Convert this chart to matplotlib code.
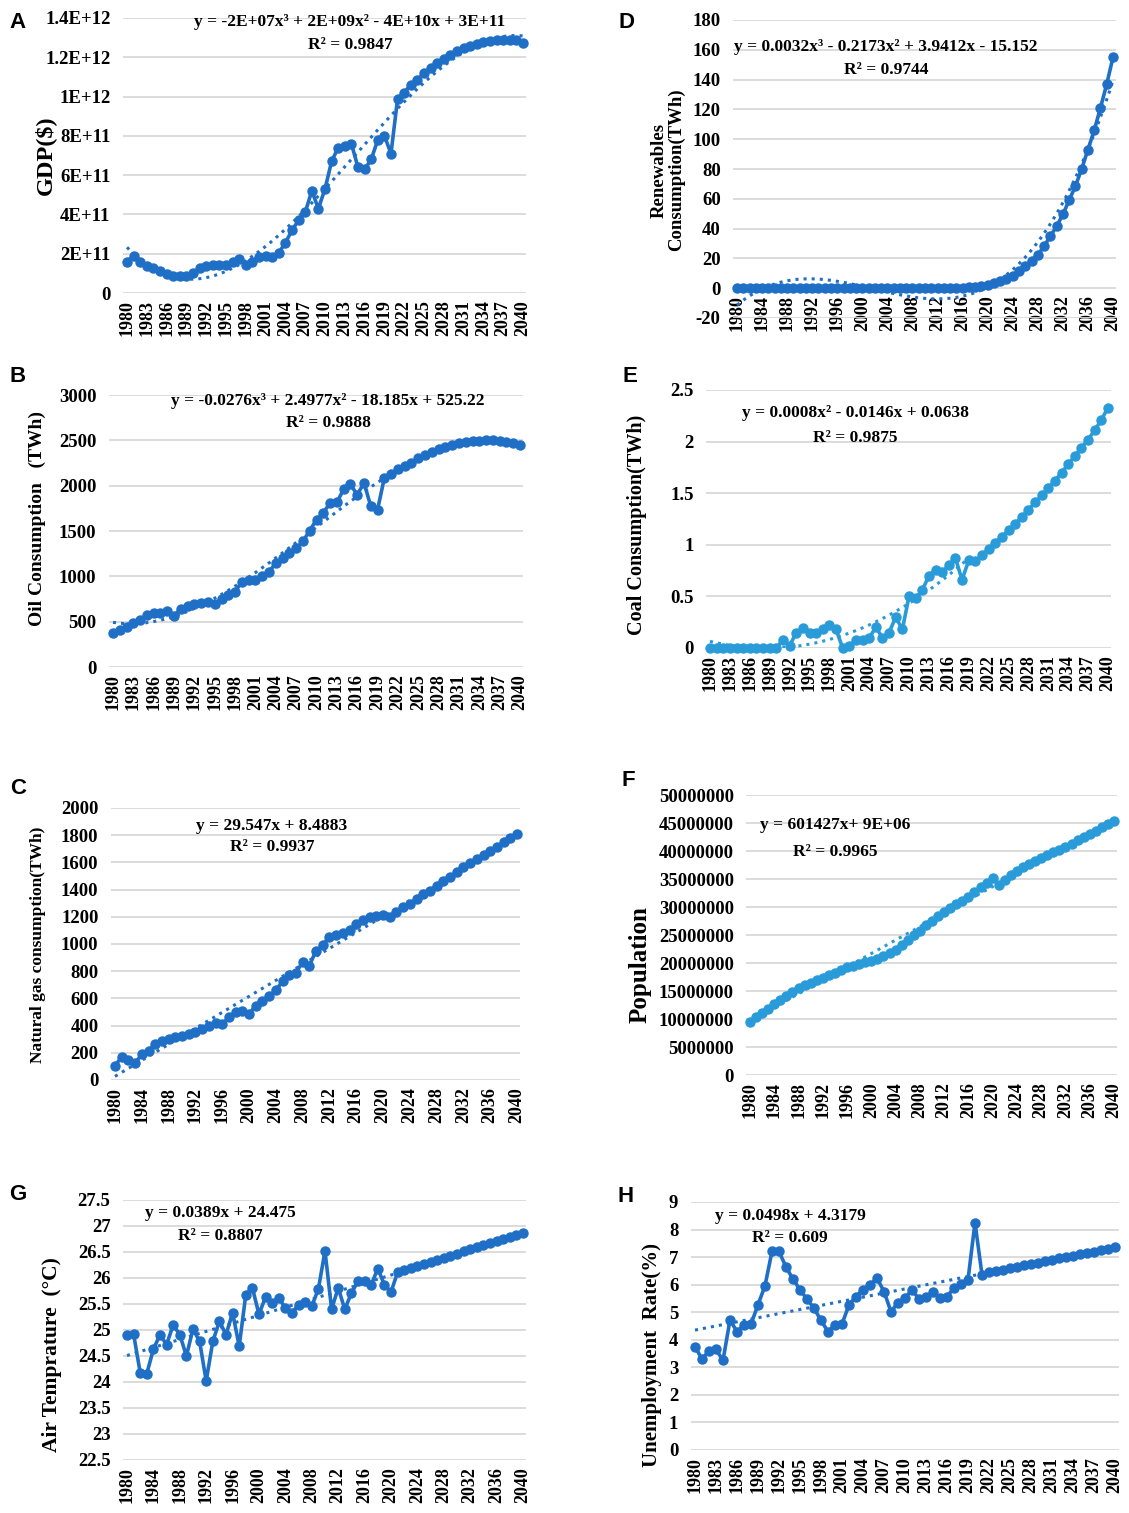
import numpy as np
import matplotlib.pyplot as plt

years = np.arange(1980, 2041)

# GDP in units of 1E+11 $
gdp = np.array([
    1.6, 1.9, 1.6, 1.35, 1.25, 1.1, 0.95, 0.85, 0.85, 0.85,
    1.0, 1.25, 1.35, 1.45, 1.45, 1.45, 1.6, 1.75, 1.45, 1.6,
    1.85, 1.9, 1.85, 2.05, 2.55, 3.2, 3.7, 4.1, 5.2, 4.3,
    5.3, 6.7, 7.4, 7.5, 7.6, 6.4, 6.3, 6.8, 7.8, 8.0,
    7.1, 9.9, 10.2, 10.6, 10.85, 11.2, 11.45, 11.7, 11.9, 12.1,
    12.3, 12.45, 12.6, 12.7, 12.8, 12.85, 12.9, 12.9, 12.9, 12.9,
    12.75]) * 1e11

oil = np.array([
    370, 405, 440, 480, 515, 570, 600, 600, 615, 565,
    645, 670, 700, 710, 720, 700, 745, 795, 830, 940,
    960, 960, 1000, 1050, 1145, 1200, 1255, 1310, 1385, 1505,
    1625, 1700, 1810, 1815, 1960, 2015, 1900, 2030, 1775, 1735,
    2085, 2125, 2180, 2215, 2250, 2300, 2335, 2370, 2400, 2430,
    2450, 2467, 2482, 2490, 2497, 2500, 2500, 2493, 2486, 2475,
    2445])

gas = np.array([
    105, 170, 147, 122, 190, 215, 265, 285, 300, 313,
    325, 338, 350, 375, 400, 417, 412, 460, 497, 505,
    485, 547, 583, 620, 660, 725, 775, 790, 865, 840,
    950, 990, 1055, 1065, 1080, 1100, 1145, 1180, 1195, 1205,
    1210, 1200, 1235, 1270, 1295, 1330, 1368, 1392, 1430, 1466,
    1495, 1527, 1564, 1593, 1625, 1657, 1686, 1715, 1747, 1777,
    1809])

renewables = np.array([
    0, 0, 0, 0, 0, 0, 0, 0, 0, 0,
    0, 0, 0, 0, 0, 0, 0, 0, 0, 0,
    0, 0, 0, 0, 0, 0, 0, 0, 0, 0,
    0, 0, 0, 0, 0, 0, 0.3, 0.6, 1.0, 1.5,
    2.2, 3.2, 4.6, 6.5, 8.5, 11.5, 15, 18.5, 22.5, 28,
    35, 41.5, 49.5, 59, 68.5, 80, 93, 106, 121, 137,
    155])

coal = np.array([
    0, 0, 0, 0, 0, 0, 0, 0, 0, 0,
    0, 0.08, 0.02, 0.15, 0.19, 0.15, 0.15, 0.18, 0.22, 0.18,
    0.0, 0.02, 0.08, 0.08, 0.1, 0.2, 0.1, 0.15, 0.3, 0.18,
    0.5, 0.48, 0.56, 0.7, 0.76, 0.74, 0.8, 0.87, 0.66, 0.85,
    0.84, 0.9, 0.96, 1.02, 1.08, 1.14, 1.2, 1.27, 1.34, 1.41,
    1.48, 1.55, 1.62, 1.7, 1.78, 1.86, 1.94, 2.02, 2.11, 2.21,
    2.33])

# population in millions
population = np.array([
    9.4, 10.3, 11.0, 11.8, 12.6, 13.4, 14.1, 14.9, 15.5, 16.0,
    16.5, 17.0, 17.4, 17.9, 18.3, 18.8, 19.2, 19.5, 19.8, 20.1,
    20.4, 20.8, 21.3, 21.7, 22.3, 23.2, 24.1, 25.0, 25.8, 26.7,
    27.5, 28.4, 29.1, 29.8, 30.5, 31.1, 31.8, 32.6, 33.5, 34.3,
    35.1, 34.0, 34.8, 35.7, 36.5, 37.1, 37.7, 38.2, 38.8, 39.3,
    39.8, 40.2, 40.7, 41.3, 41.9, 42.5, 43.1, 43.6, 44.2, 44.8,
    45.4]) * 1e6

temperature = np.array([
    24.9, 24.92, 24.18, 24.16, 24.63, 24.91, 24.72, 25.1, 24.91, 24.5,
    25.02, 24.78, 24.02, 24.78, 25.17, 24.91, 25.33, 24.69, 25.68, 25.81,
    25.3, 25.64, 25.52, 25.62, 25.42, 25.33, 25.49, 25.53, 25.46, 25.79,
    26.52, 25.4, 25.81, 25.4, 25.71, 25.94, 25.94, 25.87, 26.18, 25.87,
    25.73, 26.11, 26.15, 26.19, 26.23, 26.27, 26.31, 26.35, 26.39, 26.43,
    26.47, 26.51, 26.55, 26.59, 26.63, 26.67, 26.71, 26.75, 26.79, 26.83,
    26.87])

unemployment = np.array([
    3.75, 3.3, 3.6, 3.65, 3.25, 4.72, 4.3, 4.54, 4.57, 5.27,
    5.96, 7.21, 7.21, 6.64, 6.2, 5.82, 5.47, 5.15, 4.7, 4.3,
    4.54, 4.57, 5.27, 5.57, 5.82, 6.0, 6.24, 5.75, 5.02, 5.35,
    5.51, 5.82, 5.47, 5.55, 5.75, 5.51, 5.57, 5.88, 6.03, 6.18,
    8.25, 6.36, 6.45, 6.5, 6.55, 6.6, 6.65, 6.7, 6.75, 6.8,
    6.85, 6.9, 6.95, 7.0, 7.05, 7.1, 7.15, 7.2, 7.25, 7.3,
    7.35])

gdp_ticks = ['0', '2E+11', '4E+11', '6E+11', '8E+11', '1E+12', '1.2E+12', '1.4E+12']
oil_ticks = ['0', '500', '1000', '1500', '2000', '2500', '3000']
gas_ticks = ['0', '200', '400', '600', '800', '1000', '1200', '1400', '1600', '1800', '2000']
ren_ticks = ['-20', '0', '20', '40', '60', '80', '100', '120', '140', '160', '180']
coal_ticks = ['0', '0.5', '1', '1.5', '2', '2.5']
pop_ticks = ['0', '5000000', '10000000', '15000000', '20000000', '25000000',
             '30000000', '35000000', '40000000', '45000000', '50000000']
temp_ticks = ['22.5', '23', '23.5', '24', '24.5', '25', '25.5', '26', '26.5', '27', '27.5']
unemp_ticks = ['0', '1', '2', '3', '4', '5', '6', '7', '8', '9']

DARK = '#1f6fc6'
LIGHT = '#2a9bd9'

W, H = 1129, 1513
plt.rcParams['font.family'] = ['Liberation Serif', 'DejaVu Serif']
plt.rcParams['font.weight'] = 'bold'
fig = plt.figure(figsize=(W / 100, H / 100), dpi=100)


def px_axes(x0, x1, ytop, ybot, lo, hi):
    # x0/x1: pixel column of 1980/2040, ytop/ybot: pixel row of hi/lo
    per_year = (x1 - x0) / 60
    pl, pr = 0.6, 0.5
    left = x0 - pl * per_year
    right = x1 + pr * per_year
    ax = fig.add_axes([left / W, 1 - ybot / H, (right - left) / W, (ybot - ytop) / H])
    ax.set_xlim(1980 - pl, 2040 + pr)
    ax.set_ylim(lo, hi)
    return ax


panels = [
    dict(letter='A', y=gdp, color=DARK, labels=gdp_ticks, lo=0, hi=1.4e12, step=3,
         deg=3, fit=(1980, 2040), trend=(1980, 2040),
         box=(127, 523, 18, 293), tag=(18, 22),
         eq='y = -2E+07x³ + 2E+09x² - 4E+10x + 3E+11', r2='R² = 0.9847', eqpos=(350, 22, 45),
         ylabel='GDP($)', ylpos=(45, 155), ylsize=17.5),
    dict(letter='D', y=renewables, color=DARK, labels=ren_ticks, lo=-20, hi=180, step=4,
         deg=3, fit=(1980, 2040), trend=(1980, 2040),
         box=(737, 1113, 20, 318), tag=(626, 22),
         eq='y = 0.0032x³ - 0.2173x² + 3.9412x - 15.152', r2='R² = 0.9744', eqpos=(886, 47, 70),
         ylabel='Renewables\nConsumption(TWh)', ylpos=(668, 170), ylsize=13.5),
    dict(letter='B', y=oil, color=DARK, labels=oil_ticks, lo=0, hi=3000, step=3,
         deg=3, fit=(1980, 2040), trend=(1980, 2040),
         box=(113, 520, 395, 667), tag=(18, 376),
         eq='y = -0.0276x³ + 2.4977x² - 18.185x + 525.22', r2='R² = 0.9888', eqpos=(328, 401, 423),
         ylabel='Oil Consumption   (TWh)', ylpos=(37, 518), ylsize=14),
    dict(letter='E', y=coal, color=LIGHT, labels=coal_ticks, lo=0, hi=2.5, step=3,
         deg=2, fit=(1980, 2019), trend=(1980, 2019),
         box=(710, 1108, 390, 648), tag=(630, 376),
         eq='y = 0.0008x² - 0.0146x + 0.0638', r2='R² = 0.9875', eqpos=(855, 413, 438),
         ylabel='Coal Consumption(TWh)', ylpos=(637, 525), ylsize=14.5),
    dict(letter='C', y=gas, color=DARK, labels=gas_ticks, lo=0, hi=2000, step=4,
         deg=1, fit=(1980, 2040), trend=(1980, 2040),
         box=(115, 517, 808, 1080), tag=(18, 788),
         eq='y = 29.547x + 8.4883', r2='R² = 0.9937', eqpos=(272, 826, 847),
         ylabel='Natural gas consumption(TWh)', ylpos=(38, 945), ylsize=12.5),
    dict(letter='F', y=population, color=LIGHT, labels=pop_ticks, lo=0, hi=5e7, step=4,
         deg=1, fit=(1980, 2040), trend=(1980, 2040),
         box=(750, 1114, 795, 1075), tag=(628, 781),
         eq='y = 601427x+ 9E+06', r2='R² = 0.9965', eqpos=(835, 825, 852),
         ylabel='Population', ylpos=(640, 965), ylsize=18),
    dict(letter='G', y=temperature, color=DARK, labels=temp_ticks, lo=22.5, hi=27.5, step=4,
         deg=1, fit=(1980, 2020), trend=(1980, 2040),
         box=(127, 523, 1200, 1460), tag=(18, 1195),
         eq='y = 0.0389x + 24.475', r2='R² = 0.8807', eqpos=(220, 1213, 1236),
         ylabel='Air Temprature  (°C)', ylpos=(52, 1355), ylsize=15.5),
    dict(letter='H', y=unemployment, color=DARK, labels=unemp_ticks, lo=0, hi=9, step=3,
         deg=1, fit=(1980, 2020), trend=(1980, 2040),
         box=(695, 1115, 1202, 1450), tag=(626, 1197),
         eq='y = 0.0498x + 4.3179', r2='R² = 0.609', eqpos=(790, 1216, 1238),
         ylabel='Unemployment  Rate(%)', ylpos=(652, 1355), ylsize=15),
]

x_index = np.arange(1, len(years) + 1)

for p in panels:
    x0, x1, ytop, ybot = p['box']
    ax = px_axes(x0, x1, ytop, ybot, p['lo'], p['hi'])
    for s in ax.spines.values():
        s.set_visible(False)
    # category labels hang off the zero line, as in a spreadsheet chart
    ax.spines['bottom'].set_position(('data', max(0, p['lo'])))

    ticks = np.linspace(p['lo'], p['hi'], len(p['labels']))
    ax.set_yticks(ticks)
    ax.set_yticklabels(p['labels'])
    ax.set_xticks(years[::p['step']])
    ax.set_xticklabels([str(v) for v in years[::p['step']]])
    ax.tick_params(axis='y', length=0, pad=9, labelsize=13.5)
    ax.tick_params(axis='x', length=0, pad=5, labelsize=13, labelrotation=90)
    ax.yaxis.grid(True, color='#d9d9d9', lw=1.3)
    ax.set_axisbelow(True)

    ax.plot(years, p['y'], '-o', color=p['color'], lw=2.6, ms=6.5,
            clip_on=False, zorder=3)

    f0, f1 = p['fit']
    m = (years >= f0) & (years <= f1)
    coef = np.polyfit(x_index[m], p['y'][m], p['deg'])
    t0, t1 = p['trend']
    mt = (years >= t0) & (years <= t1)
    xs = np.linspace(x_index[mt][0], x_index[mt][-1], 300)
    ax.plot(xs + 1979, np.polyval(coef, xs), ':', color=p['color'], lw=2.2, zorder=4)

    ex, ey1, ey2 = p['eqpos']
    fig.text(ex / W, 1 - ey1 / H, p['eq'], ha='center', va='center', fontsize=12.5)
    fig.text(ex / W, 1 - ey2 / H, p['r2'], ha='center', va='center', fontsize=12.5)

    lx, ly = p['ylpos']
    fig.text(lx / W, 1 - ly / H, p['ylabel'], rotation=90, ha='center', va='center',
             fontsize=p['ylsize'], linespacing=1.0)

    tx, ty = p['tag']
    fig.text(tx / W, 1 - ty / H, p['letter'], ha='center', va='center', fontsize=16,
             family='Liberation Sans', weight='bold')

fig.savefig('out.png', dpi=100, facecolor='white')
